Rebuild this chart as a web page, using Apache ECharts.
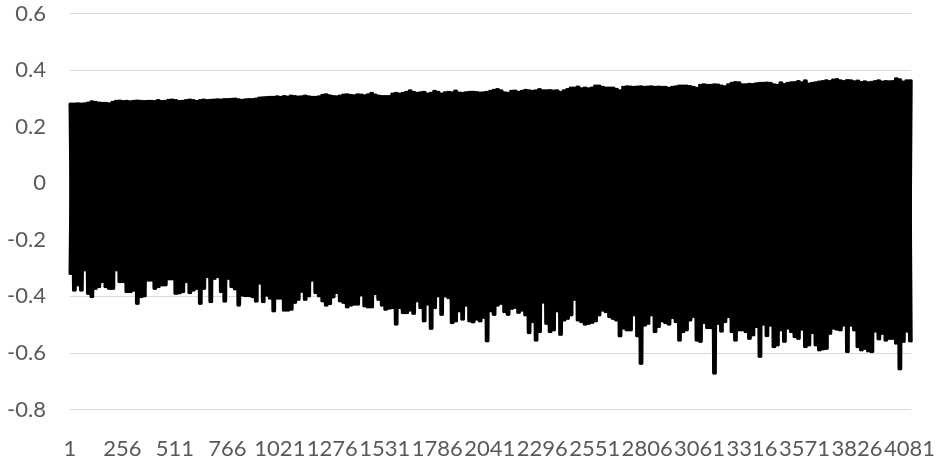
<!DOCTYPE html>
<html>
<head>
<meta charset="utf-8">
<style>
html, body { margin: 0; padding: 0; background: #fff; }
#chart { width: 938px; height: 466px; }
</style>
<script src="https://cdn.jsdelivr.net/npm/echarts@6/dist/echarts.min.js"></script>
</head>
<body>
<div id="chart"></div>
<script>
var tickLabels = ['1','256','511','766','1021','1276','1531','1786','2041','2296','2551','2806','3061','3316','3571','3826','4081'];

// top edge of the black band, read every ~3.5px across the plot
var upper = [
.280,.280,.281,.280,.281,.284,.288,.286,.284,.283,
.283,.281,.286,.290,.291,.289,.290,.288,.290,.291,
.290,.289,.290,.290,.289,.292,.289,.290,.293,.294,
.292,.289,.290,.292,.294,.292,.289,.292,.294,.292,
.293,.294,.295,.294,.296,.296,.297,.298,.295,.293,
.295,.296,.296,.298,.301,.302,.303,.304,.304,.306,
.304,.307,.305,.308,.307,.305,.306,.308,.306,.304,
.304,.306,.311,.313,.309,.307,.306,.308,.312,.313,
.311,.309,.313,.312,.309,.313,.318,.312,.308,.307,
.307,.307,.315,.318,.315,.318,.322,.327,.322,.318,
.320,.322,.315,.318,.325,.322,.315,.320,.322,.320,
.326,.319,.318,.320,.322,.322,.321,.319,.320,.322,
.325,.329,.331,.327,.320,.318,.325,.326,.322,.325,
.329,.327,.325,.327,.331,.327,.327,.328,.326,.327,
.322,.327,.331,.337,.337,.340,.334,.337,.334,.337,
.344,.344,.339,.337,.337,.337,.332,.327,.339,.341,
.340,.339,.340,.341,.339,.340,.341,.339,.340,.339,
.339,.336,.339,.341,.344,.344,.344,.342,.339,.336,
.346,.348,.346,.346,.348,.347,.344,.341,.348,.353,
.356,.355,.348,.348,.350,.349,.352,.353,.353,.354,
.353,.348,.346,.355,.349,.353,.355,.356,.360,.355,
.362,.351,.353,.355,.358,.360,.362,.360,.365,.367,
.362,.360,.363,.362,.359,.361,.356,.359,.355,.357,
.360,.362,.358,.360,.359,.360,.369,.366,.358,.362,
.362
];

// bottom edge of the band, same spacing
var lower = [
-.319,-.378,-.360,-.378,-.307,-.390,-.401,-.372,-.366,-.348,
-.366,-.372,-.372,-.307,-.348,-.348,-.384,-.384,-.378,-.425,
-.401,-.399,-.343,-.343,-.372,-.366,-.360,-.360,-.339,-.339,
-.390,-.388,-.384,-.348,-.387,-.378,-.372,-.425,-.372,-.331,
-.419,-.337,-.331,-.384,-.417,-.337,-.366,-.374,-.431,-.396,
-.398,-.398,-.401,-.417,-.354,-.419,-.396,-.407,-.452,-.407,
-.407,-.449,-.449,-.446,-.422,-.411,-.383,-.411,-.399,-.343,
-.387,-.399,-.416,-.431,-.426,-.402,-.387,-.416,-.422,-.438,
-.431,-.428,-.428,-.395,-.434,-.438,-.438,-.391,-.411,-.431,
-.446,-.442,-.440,-.499,-.440,-.458,-.458,-.449,-.461,-.416,
-.440,-.487,-.428,-.514,-.440,-.399,-.464,-.399,-.405,-.493,
-.487,-.452,-.481,-.431,-.487,-.491,-.481,-.487,-.475,-.558,
-.452,-.464,-.431,
-.425,-.454,-.464,-.443,-.439,-.457,-.449,-.466,-.529,-.490,
-.555,-.525,-.421,-.496,-.525,-.519,-.452,-.535,-.484,-.478,
-.466,-.411,-.484,-.490,-.499,-.496,-.492,-.487,-.466,-.449,
-.454,-.472,-.478,-.484,-.540,-.513,-.519,-.519,-.466,-.540,
-.637,-.502,-.496,-.466,-.525,-.507,-.487,-.493,-.499,-.476,
-.490,-.555,-.525,-.519,-.484,-.472,-.555,-.560,-.493,-.511,
-.511,-.672,-.496,
-.523,-.490,-.472,-.525,-.555,-.519,-.519,-.525,-.549,-.537,
-.507,-.613,-.499,-.539,-.502,-.578,-.572,-.519,-.560,-.513,
-.525,-.543,-.549,-.516,-.578,-.572,-.529,-.572,-.590,-.586,
-.584,-.531,-.513,-.516,-.519,-.502,-.596,-.502,-.519,-.578,
-.590,-.584,-.593,-.596,-.523,-.551,-.531,-.555,-.549,-.549,
-.566,-.657,-.560,-.523,-.558
];

// the line swings between the two edges, so zigzag them together.
// second pass is out of phase so the little V gaps get filled
var values = [];
var valuesB = [];
var categories = [];
for (var k = 0; k < upper.length; k++) {
    values.push(upper[k], lower[k]);
    valuesB.push(lower[k], upper[k]);
}
for (var i = 0; i < values.length; i++) {
    categories.push(i % 30 === 0 ? tickLabels[i / 30] : String(1 + Math.round(i * 8.5)));
}

function zigzag(data) {
    return {
        type: 'line',
        data: data,
        symbol: 'none',
        showSymbol: false,
        sampling: false,
        smooth: false,
        lineStyle: { color: '#000000', width: 3, cap: 'round', join: 'round' }
    };
}

var myChart = echarts.init(document.getElementById('chart'), null, { renderer: 'canvas' });
var option = {
    animation: false,
    backgroundColor: '#ffffff',
    grid: { left: 70, right: 26, top: 13.5, bottom: 56.5, containLabel: false },
    xAxis: {
        type: 'category',
        boundaryGap: false,
        data: categories,
        axisLine: { show: false, onZero: false },
        axisTick: { show: false },
        splitLine: { show: false },
        axisLabel: {
            interval: function (index) { return index % 30 === 0; },
            hideOverlap: false,
            margin: 28,
            color: '#595959',
            fontFamily: 'Lato',
            fontSize: 22
        }
    },
    yAxis: {
        type: 'value',
        min: -0.8,
        max: 0.6,
        interval: 0.2,
        axisLine: { show: false },
        axisTick: { show: false },
        axisLabel: {
            margin: 24,
            color: '#595959',
            fontFamily: 'Lato',
            fontSize: 22,
            formatter: function (v) { return String(Math.round(v * 10) / 10); }
        },
        splitLine: { lineStyle: { color: '#d9d9d9', width: 1 } }
    },
    series: [zigzag(values), zigzag(valuesB)]
};
myChart.setOption(option, true);
</script>
</body>
</html>
